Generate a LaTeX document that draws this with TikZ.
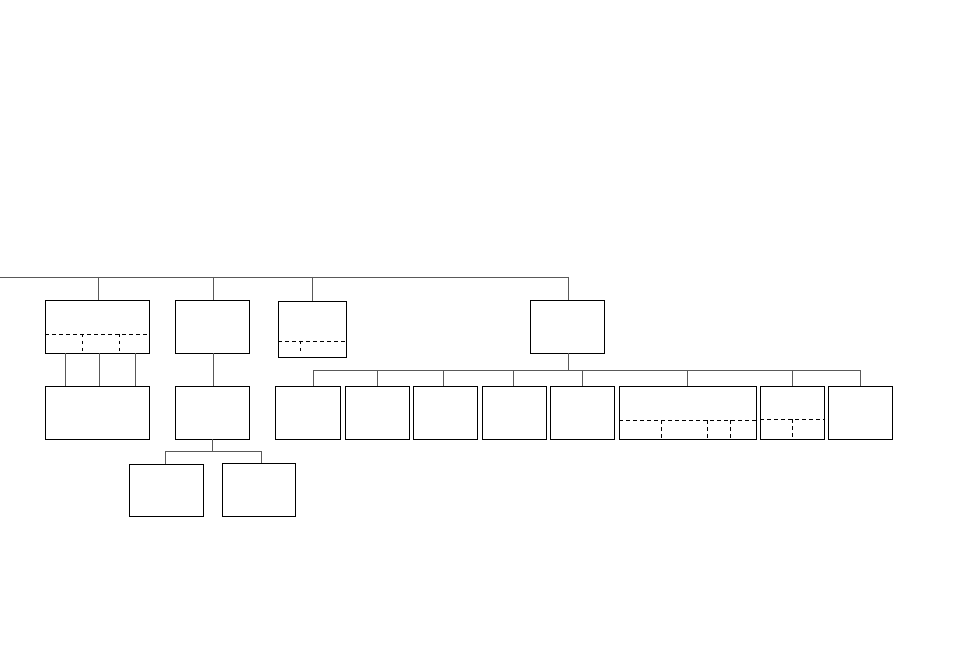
\documentclass[tikz,border=0pt]{standalone}
\begin{document}
\begin{tikzpicture}[x=1pt,y=-1pt,
  box/.style={draw=black,line width=0.9pt,inner sep=0pt,outer sep=0pt,anchor=north west},
  conn/.style={draw=black!65,line width=0.9pt},
  sub/.style={draw=black,line width=0.9pt,dash pattern=on 3.5pt off 3.5pt}]
\useasboundingbox (0,0) rectangle (954,671);
% row 1
\node[box,minimum width=104pt,minimum height=53pt] (A) at (45,300) {};
\node[box,minimum width=74pt,minimum height=53pt] (B) at (175,300) {};
\node[box,minimum width=68pt,minimum height=56pt] (C) at (278,301) {};
\node[box,minimum width=74pt,minimum height=53pt] (D) at (530,300) {};
\draw[sub] (A.west |- 0,334) -- (A.east |- 0,334);
\draw[sub] (82,334) -- (A.south -| 82,0);
\draw[sub] (119,334) -- (A.south -| 119,0);
\draw[sub] (C.west |- 0,341) -- (C.east |- 0,341);
\draw[sub] (300,341) -- (300,353);
% row 2
\node[box,minimum width=104pt,minimum height=53pt] (A2) at (45,386) {};
\node[box,minimum width=74pt,minimum height=53pt] (B2) at (175,386) {};
\node[box,minimum width=65pt,minimum height=53pt] (E1) at (275,386) {};
\node[box,minimum width=64pt,minimum height=53pt] (E2) at (345,386) {};
\node[box,minimum width=64pt,minimum height=53pt] (E3) at (413,386) {};
\node[box,minimum width=64pt,minimum height=53pt] (E4) at (482,386) {};
\node[box,minimum width=64pt,minimum height=53pt] (E5) at (550,386) {};
\node[box,minimum width=137pt,minimum height=53pt] (E6) at (619,386) {};
\node[box,minimum width=64pt,minimum height=53pt] (E7) at (760,386) {};
\node[box,minimum width=64pt,minimum height=53pt] (E8) at (828,386) {};
\draw[sub] (E6.west |- 0,420) -- (E6.east |- 0,420);
\foreach \x in {661,707,730} \draw[sub] (\x,420) -- (E6.south -| \x,0);
\draw[sub] (E7.west |- 0,419) -- (E7.east |- 0,419);
\draw[sub] (792,419) -- (E7.south -| 792,0);
% row 3
\node[box,minimum width=74pt,minimum height=52pt] (F1) at (129,464) {};
\node[box,minimum width=73pt,minimum height=53pt] (F2) at (222,463) {};
% connectors
\coordinate (top0) at (0,277);
\coordinate (bus1) at (0,370);
\coordinate (bus2) at (0,451);
\draw[conn] (top0) -- (top0 -| 568,0);
\draw[conn] (98,277) -- (A.north -| 98,0);
\draw[conn] (213,277) -- (B.north -| 213,0);
\draw[conn] (312,277) -- (C.north -| 312,0);
\draw[conn] (568,277) -- (D.north -| 568,0);
\foreach \x in {65,99,135} \draw[conn] (A.south -| \x,0) -- (A2.north -| \x,0);
\draw[conn] (B.south -| 213,0) -- (B2.north -| 213,0);
\draw[conn] (D.south -| 568,0) -- (bus1 -| 568,0);
\draw[conn] (bus1 -| 313,0) -- (bus1 -| 860,0);
\foreach \n/\x in {E1/313,E2/377,E3/443,E4/513,E5/582,E6/687,E7/792,E8/860}
  \draw[conn] (bus1 -| \x,0) -- (\n.north -| \x,0);
\draw[conn] (B2.south -| 212,0) -- (bus2 -| 212,0);
\draw[conn] (F1.north -| 165,0) |- (bus2 -| 261,0) -- (F2.north -| 261,0);
\end{tikzpicture}
\end{document}
